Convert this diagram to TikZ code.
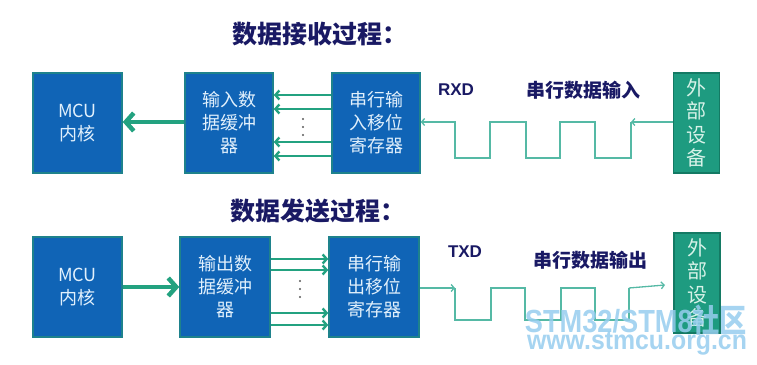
\documentclass[tikz,border=0pt]{standalone}
\usepackage{fontspec}
\setmainfont{Noto Sans CJK SC}
\newfontfamily\lat{Liberation Sans}
\usetikzlibrary{arrows.meta}
\definecolor{boxblue}{RGB}{16,100,182}
\definecolor{boxedge}{RGB}{30,130,140}
\definecolor{boxtext}{RGB}{225,240,252}
\definecolor{extgreen}{RGB}{30,155,128}
\definecolor{extedge}{RGB}{20,122,100}
\definecolor{exttext}{RGB}{215,242,232}
\definecolor{arrgreen}{RGB}{35,162,128}
\definecolor{wavegreen}{RGB}{85,185,165}
\definecolor{navy}{RGB}{25,25,100}
\definecolor{wmblue}{RGB}{150,205,238}
\begin{document}
\begin{tikzpicture}[x=1pt,y=-1pt,
  blk/.style={draw=boxedge, line width=1.5pt, fill=boxblue, text=boxtext,
    minimum height=100pt, inner sep=0pt, align=center,
    font=\fontsize{18}{23}\selectfont},
  extbox/.style={draw=extedge, line width=1.5pt, fill=extgreen, text=exttext,
    minimum width=46pt, minimum height=100pt, inner sep=0pt, align=center,
    font=\fontsize{20}{23.5}\selectfont},
  bigarr/.style={draw=arrgreen, line width=4.5pt, -{Straight Barb[length=8pt,width=18pt]}},
  busarr/.style={draw=arrgreen, line width=2.4pt, -{Straight Barb[length=4pt,width=9pt]}},
  wave/.style={draw=wavegreen, line width=1.3pt, line join=miter},
  wavearr/.style={wave, -{Straight Barb[length=3pt,width=7pt]}},
  ttl/.style={anchor=west, inner sep=0pt, text=navy, font=\fontsize{25}{28}\selectfont\bfseries},
  sig/.style={inner sep=0pt, text=navy, font=\lat\fontsize{17}{20}\selectfont\bfseries},
  siglbl/.style={inner sep=0pt, text=navy, font=\fontsize{19}{22}\selectfont\bfseries},
  dotm/.style={fill=black!65, circle, inner sep=0pt, minimum size=2.2pt},
  wmark/.style={inner sep=0pt, text=wmblue, opacity=0.85}
]
\useasboundingbox (0,0) rectangle (757,364);

% ---------- receive ----------
\node[ttl] (t1) at (232,34) {数据接收过程：};
\node[blk, minimum width=89pt] (mcu1) at (77.5,123) {MCU\\内核};
\node[blk, minimum width=88pt] (buf1) at (229,123) {输入数\\据缓冲\\器};
\node[blk, minimum width=88pt] (sr1) at (376,123) {串行输\\入移位\\寄存器};
\node[extbox] (ext1) at (696.5,123) {外\\部\\设\\备};
\node[sig] (rxd) at (456,90) {RXD};
\node[siglbl] (in1) at (583,90) {串行数据输入};

\draw[bigarr] (buf1.west |- 0,122) -- (mcu1.east |- 0,122);
\foreach \yy in {95,109,142,156}
  \draw[busarr] (sr1.west |- 0,\yy) -- (buf1.east |- 0,\yy);
\node[dotm] (d1a) at (303,119) {};
\node[dotm] (d1b) at (303,127) {};
\node[dotm] (d1c) at (303,135) {};

\coordinate (w1s) at (631,122);
\draw[wavearr] (ext1.west |- 0,122) -- (w1s);
\draw[wavearr] (w1s) -- (631,158) -- (595,158) -- (595,122) -- (560,122) -- (560,158)
  -- (526,158) -- (526,122) -- (490,122) -- (490,158) -- (455,158) -- (455,122)
  -- (sr1.east |- 0,122);

% ---------- send ----------
\node[ttl] (t2) at (230,211) {数据发送过程：};
\node[blk, minimum width=89pt] (mcu2) at (77.5,287) {MCU\\内核};
\node[blk, minimum width=90pt] (buf2) at (225,287) {输出数\\据缓冲\\器};
\node[blk, minimum width=90pt] (sr2) at (374,287) {串行输\\出移位\\寄存器};
\node[extbox] (ext2) at (697,283) {外\\部\\设\\备};
\node[sig] (txd) at (465,252) {TXD};
\node[siglbl] (out2) at (590,260) {串行数据输出};

\draw[bigarr] (mcu2.east |- 0,287) -- (buf2.west |- 0,287);
\foreach \yy in {259,270,313,325}
  \draw[busarr] (buf2.east |- 0,\yy) -- (sr2.west |- 0,\yy);
\node[dotm] (d2a) at (300,281) {};
\node[dotm] (d2b) at (300,289) {};
\node[dotm] (d2c) at (300,297) {};

\coordinate (w2a) at (455,288);
\coordinate (w2e) at (629,288);
\coordinate (w2t) at (665,285);
\draw[wavearr] (sr2.east |- 0,288) -- (w2a);
\draw[wave] (w2a) -- (455,320) -- (491,320) -- (491,288) -- (525,288) -- (525,320)
  -- (561,320) -- (561,288) -- (595,288) -- (595,320) -- (629,320) -- (w2e);
\draw[wavearr] (w2e) -- (w2t);

% ---------- watermark ----------
\node[wmark, font=\fontsize{32}{34}\selectfont\bfseries] (wm1) at (636,320)
  {\scalebox{0.85}[1]{{\lat STM32/STM8}社区}};
\node[wmark, font=\lat\fontsize{27}{29}\selectfont\bfseries] (wm2) at (637,344)
  {\scalebox{0.92}[1]{www.stmcu.org.cn}};
\end{tikzpicture}
\end{document}
